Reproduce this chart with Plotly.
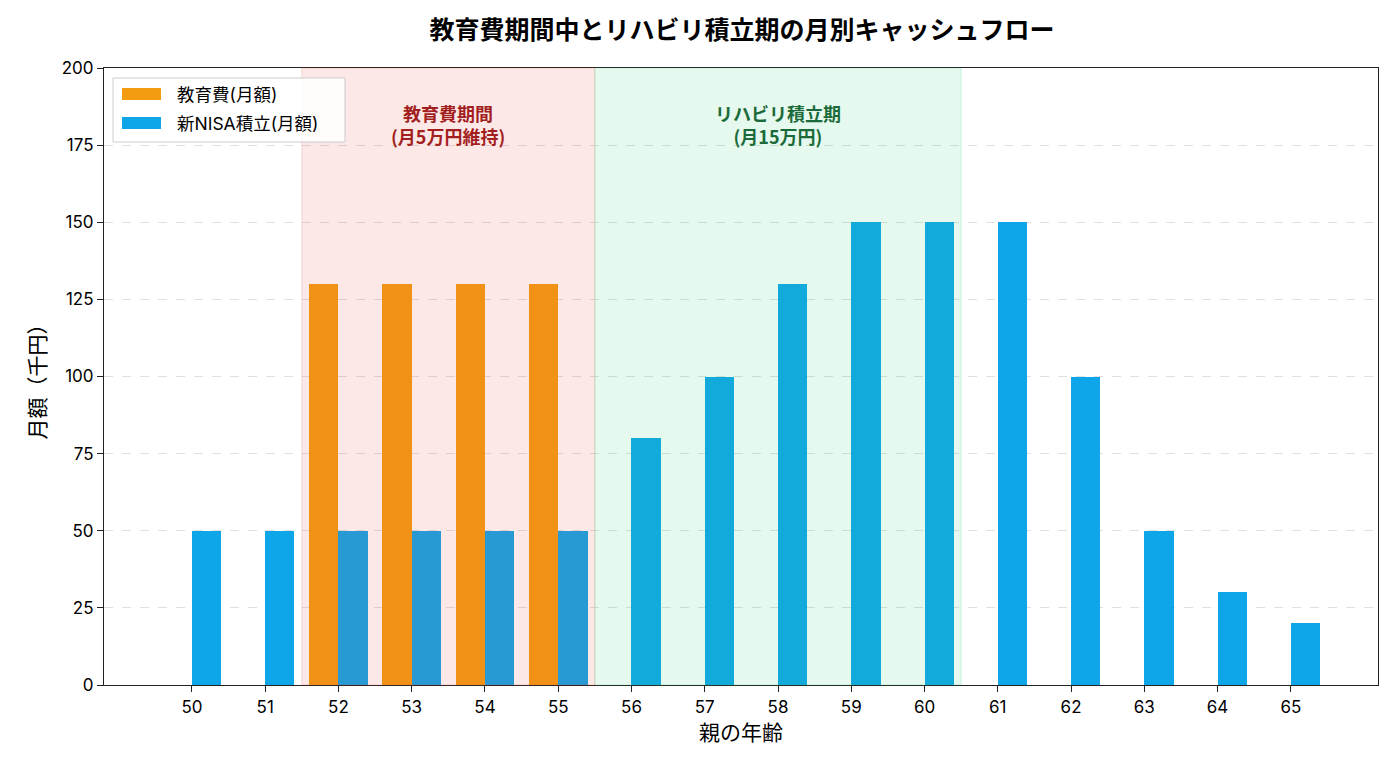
import plotly.graph_objects as go

ages = list(range(50, 66))
education = [0, 0, 130, 130, 130, 130, 0, 0, 0, 0, 0, 0, 0, 0, 0, 0]
nisa = [50, 50, 50, 50, 50, 50, 80, 100, 130, 150, 150, 150, 100, 50, 30, 20]
tick_labels = [str(a) for a in ages]
series_names = ["教育費(月額)", "新NISA積立(月額)"]
period_labels = ["教育費期間<br>(月5万円維持)", "リハビリ積立期<br>(月15万円)"]

edu_color = "#f39c12"
nisa_color = "#0ea5e9"
bar_w = 0.4
CJK = "Noto Sans CJK JP"
FONT = "Inter, Noto Sans CJK JP"

W, H = 1400, 770
ML, MR, MT, MB = 104, 22, 68, 85
PW, PH = W - ML - MR, H - MT - MB


def px_x(x):
    return (x - ML) / PW


def px_y(y):
    return (H - MB - y) / PH


fig = go.Figure()
fig.add_trace(go.Bar(
    x=[a - bar_w / 2 for a in ages], y=education, width=bar_w,
    marker=dict(color=edu_color, line=dict(width=0)),
    name=series_names[0], showlegend=False,
))
fig.add_trace(go.Bar(
    x=[a + bar_w / 2 for a in ages], y=nisa, width=bar_w,
    marker=dict(color=nisa_color, line=dict(width=0)),
    name=series_names[1], showlegend=False,
))

# shaded periods (drawn above the bars, semi-transparent)
fig.add_shape(type="rect", xref="x", yref="paper", x0=51.5, x1=55.5, y0=0, y1=1,
              fillcolor="rgba(231,76,60,0.12)", line=dict(color="rgba(231,76,60,0.2)", width=1),
              layer="above")
fig.add_shape(type="rect", xref="x", yref="paper", x0=55.5, x1=60.5, y0=0, y1=1,
              fillcolor="rgba(46,204,113,0.12)", line=dict(color="rgba(46,204,113,0.2)", width=1),
              layer="above")

for txt, xc, col in zip(period_labels, [53.5, 58], ["#a31f1f", "#1b6b3a"]):
    fig.add_annotation(x=xc, y=181.6, xref="x", yref="y", showarrow=False,
                       text=f"<b>{txt}</b>",
                       font=dict(family=CJK, size=18, color=col), align="center")

# legend (custom, matplotlib-like)
fig.add_shape(type="rect", xref="paper", yref="paper",
              x0=px_x(113), x1=px_x(345), y0=px_y(142), y1=px_y(78),
              fillcolor="rgba(255,255,255,0.85)", line=dict(color="#cccccc", width=1),
              layer="above")
for i, (name, col) in enumerate(zip(series_names, [edu_color, nisa_color])):
    cy = 94 + 29 * i
    fig.add_shape(type="rect", xref="paper", yref="paper",
                  x0=px_x(122), x1=px_x(161), y0=px_y(cy + 6), y1=px_y(cy - 6),
                  fillcolor=col, line=dict(width=0), layer="above")
    fig.add_annotation(xref="paper", yref="paper", x=px_x(175), y=px_y(cy),
                       xanchor="left", yanchor="middle", showarrow=False,
                       text=name, font=dict(family=FONT, size=17.5, color="black"))

fig.update_layout(
    width=W, height=H,
    margin=dict(l=ML, r=MR, t=MT, b=MB),
    paper_bgcolor="white", plot_bgcolor="white",
    barmode="overlay",
    bargap=0,
    font=dict(family=FONT, size=17, color="black"),
    title=dict(text="<b>教育費期間中とリハビリ積立期の月別キャッシュフロー</b>",
               x=(742) / W, xanchor="center", y=1 - 30 / H, yanchor="middle",
               font=dict(family=CJK, size=25, color="black")),
    showlegend=False,
)
fig.update_xaxes(
    range=[48.8, 66.19], tickmode="array", tickvals=ages, ticktext=tick_labels,
    showgrid=False, zeroline=False,
    showline=True, linecolor="#222222", linewidth=1.2, mirror=True,
    ticks="outside", ticklen=6, tickcolor="#222222", tickwidth=1.2,
    tickfont=dict(family=FONT, size=17),
    title=dict(text="親の年齢", font=dict(family=CJK, size=21), standoff=8),
)
fig.update_yaxes(
    range=[0, 200], tickmode="array", tickvals=list(range(0, 201, 25)),
    showgrid=True, gridcolor="rgba(0,0,0,0.12)", griddash="dash", gridwidth=1,
    zeroline=False,
    showline=True, linecolor="#222222", linewidth=1.2, mirror=True,
    ticks="outside", ticklen=6, tickcolor="#222222", tickwidth=1.2,
    tickfont=dict(family=FONT, size=17),
    title=dict(text="月額（千円）", font=dict(family=CJK, size=21), standoff=10),
)

fig.write_html("out.html")
